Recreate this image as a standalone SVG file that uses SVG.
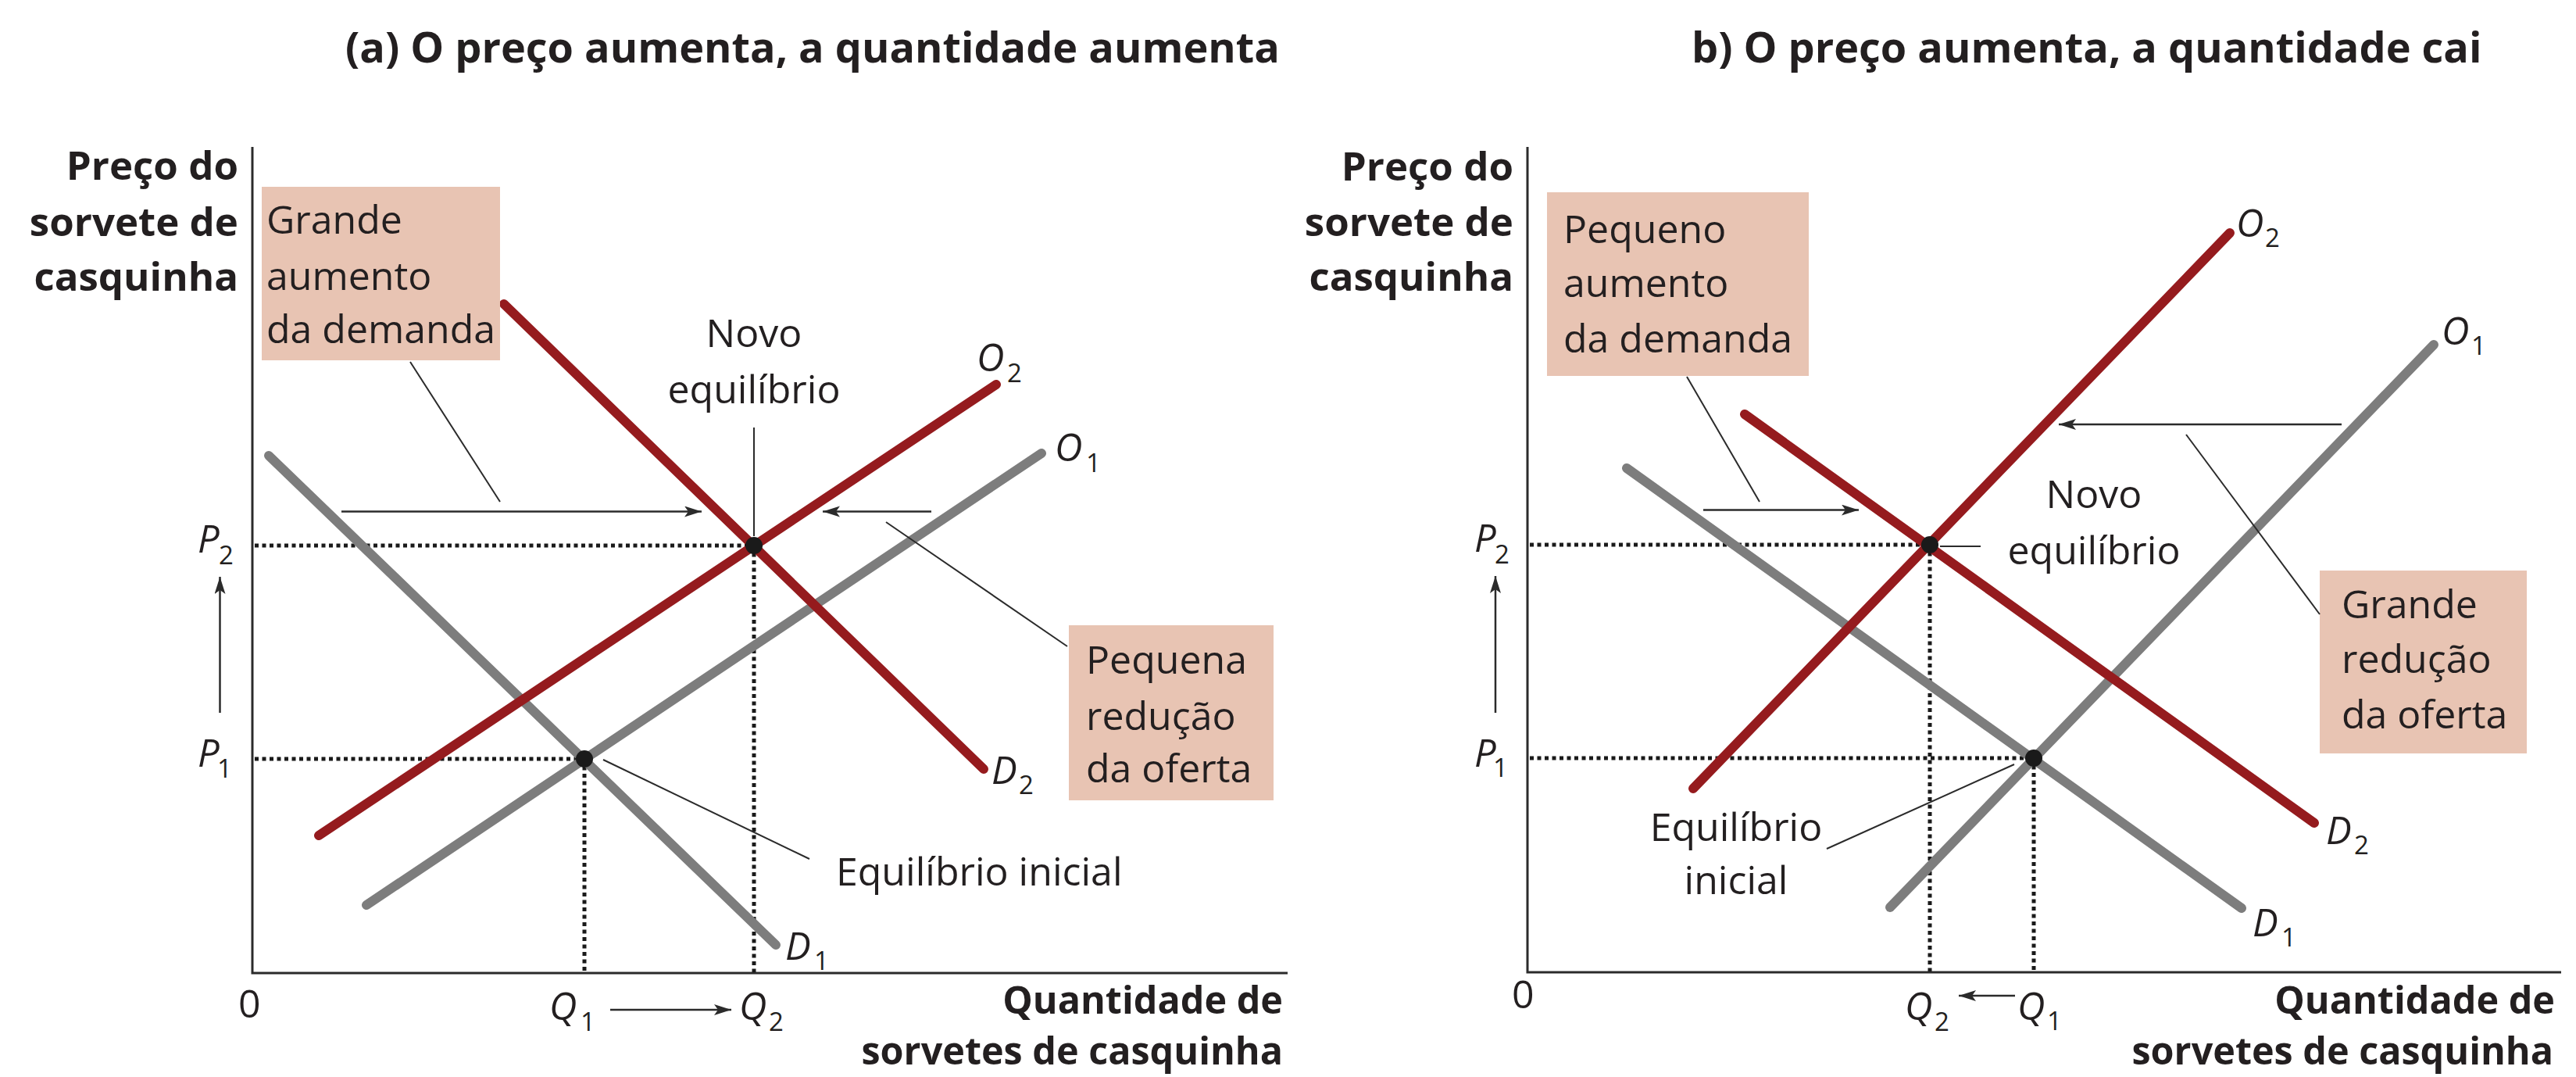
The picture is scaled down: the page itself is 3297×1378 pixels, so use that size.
<svg xmlns="http://www.w3.org/2000/svg" width="3297" height="1378" viewBox="0 0 3297 1378">
<style>
text{font-family:"Open Sans","Liberation Sans",sans-serif;fill:#231f20}
.title{font-weight:bold;font-size:54px}
.ax{font-weight:bold;font-size:51px}
.axq{font-weight:bold;font-size:48.5px}
.lbl{font-size:50px}
.it{font-style:italic;font-size:49px}
.sub{font-size:33px}
.box{fill:#e8c4b3}
.axis{stroke:#2b2b2b;stroke-width:3;fill:none}
.red{stroke:#951b1e;stroke-width:12;stroke-linecap:round;fill:none}
.gray{stroke:#7d7d7d;stroke-width:12;stroke-linecap:round;fill:none}
.dot{stroke:#1a1a1a;stroke-width:5;stroke-dasharray:5 4.5;fill:none}
.lead{stroke:#2b2b2b;stroke-width:2;fill:none}
.arr{stroke:#2b2b2b;stroke-width:2.5;fill:none;marker-end:url(#ah)}
.pt{fill:#1a1a1a}
</style>
<defs>
<marker id="ah" markerUnits="userSpaceOnUse" markerWidth="24" markerHeight="16" refX="22" refY="7" orient="auto">
<path d="M0,0 L22,7 L0,14 L5,7 z" fill="#2b2b2b"/>
</marker>
</defs>
<rect width="3297" height="1378" fill="#ffffff"/>

<!-- Panel A -->
<g id="panel-a">
<text id="title-a" class="title" x="442" y="80">(a) O preço aumenta, a quantidade aumenta</text>
<g id="axes-a">
<path class="axis" d="M323,188 V1245 H1648"/>
<text class="ax" text-anchor="end" x="305" y="230">Preço do</text>
<text class="ax" text-anchor="end" x="305" y="302">sorvete de</text>
<text class="ax" text-anchor="end" x="305" y="372">casquinha</text>
<text class="axq" text-anchor="end" x="1642" y="1297">Quantidade de</text>
<text class="axq" text-anchor="end" x="1642" y="1362">sorvetes de casquinha</text>
<text class="lbl" x="305" y="1302">0</text>
</g>
<g id="guides-a">
<line class="dot" x1="326" y1="698" x2="965" y2="698"/>
<line class="dot" x1="326" y1="971" x2="748" y2="971"/>
<line class="dot" x1="748" y1="971" x2="748" y2="1244"/>
<line class="dot" x1="965" y1="698" x2="965" y2="1244"/>
</g>
<g id="curves-a">
<line id="D1-a" class="gray" x1="344" y1="583" x2="993" y2="1209"/>
<line id="O1-a" class="gray" x1="469" y1="1158" x2="1333" y2="580"/>
<line id="D2-a" class="red" x1="645" y1="389" x2="1259" y2="984"/>
<line id="O2-a" class="red" x1="408" y1="1069" x2="1275" y2="492"/>
</g>
<g id="labels-a">
<text class="it" x="253" y="707">P<tspan class="sub" style="font-style:normal" x="280" y="722">2</tspan></text>
<text class="it" x="253" y="981">P<tspan class="sub" style="font-style:normal" x="278" y="995">1</tspan></text>
<text class="it" x="1250" y="475">O<tspan class="sub" style="font-style:normal" x="1289" y="489">2</tspan></text>
<text class="it" x="1350" y="590">O<tspan class="sub" style="font-style:normal" x="1390" y="604">1</tspan></text>
<text class="it" x="1269" y="1003">D<tspan class="sub" style="font-style:normal" x="1304" y="1016">2</tspan></text>
<text class="it" x="1005" y="1228">D<tspan class="sub" style="font-style:normal" x="1042" y="1241">1</tspan></text>
<text class="it" x="703" y="1305">Q<tspan class="sub" style="font-style:normal" x="743" y="1319">1</tspan></text>
<text class="it" x="946" y="1305">Q<tspan class="sub" style="font-style:normal" x="984" y="1319">2</tspan></text>
</g>
<g id="eq-new-a">
<circle class="pt" cx="965" cy="698" r="11"/>
<text class="lbl" text-anchor="middle" x="965" y="444">Novo</text>
<text class="lbl" text-anchor="middle" x="965" y="516">equilíbrio</text>
</g>
<g id="eq-init-a">
<circle class="pt" cx="748" cy="971" r="11"/>
<text class="lbl" x="1070" y="1133">Equilíbrio inicial</text>
</g>
<g id="box-demand-a">
<rect class="box" x="335" y="239" width="305" height="222"/>
<text class="lbl" x="341" y="299">Grande</text>
<text class="lbl" x="341" y="371">aumento</text>
<text class="lbl" x="341" y="439">da demanda</text>
</g>
<g id="box-supply-a">
<rect class="box" x="1368" y="800" width="262" height="224"/>
<text class="lbl" x="1390" y="862">Pequena</text>
<text class="lbl" x="1390" y="934">redução</text>
<text class="lbl" x="1390" y="1001">da oferta</text>
</g>
</g>

<!-- Panel B -->
<g id="panel-b">
<text id="title-b" class="title" x="2165" y="80">b) O preço aumenta, a quantidade cai</text>
<g id="axes-b">
<path class="axis" d="M1955,188 V1244 H3278"/>
<text class="ax" text-anchor="end" x="1937" y="231">Preço do</text>
<text class="ax" text-anchor="end" x="1937" y="302">sorvete de</text>
<text class="ax" text-anchor="end" x="1937" y="372">casquinha</text>
<text class="axq" text-anchor="end" x="3270" y="1297">Quantidade de</text>
<text class="axq" text-anchor="end" x="3268" y="1362">sorvetes de casquinha</text>
<text class="lbl" x="1935" y="1290">0</text>
</g>
<g id="guides-b">
<line class="dot" x1="1958" y1="697" x2="2470" y2="697"/>
<line class="dot" x1="1958" y1="970" x2="2603" y2="970"/>
<line class="dot" x1="2470" y1="697" x2="2470" y2="1243"/>
<line class="dot" x1="2603" y1="970" x2="2603" y2="1243"/>
</g>
<g id="curves-b">
<line id="D1-b" class="gray" x1="2082" y1="599" x2="2869" y2="1162"/>
<line id="O1-b" class="gray" x1="2419" y1="1161" x2="3115" y2="441"/>
<line id="D2-b" class="red" x1="2233" y1="530" x2="2962" y2="1053"/>
<line id="O2-b" class="red" x1="2167" y1="1009" x2="2854" y2="298"/>
</g>
<g id="labels-b">
<text class="it" x="1887" y="706">P<tspan class="sub" style="font-style:normal" x="1913" y="721">2</tspan></text>
<text class="it" x="1887" y="981">P<tspan class="sub" style="font-style:normal" x="1911" y="994">1</tspan></text>
<text class="it" x="2862" y="303">O<tspan class="sub" style="font-style:normal" x="2899" y="316">2</tspan></text>
<text class="it" x="3125" y="441">O<tspan class="sub" style="font-style:normal" x="3163" y="454">1</tspan></text>
<text class="it" x="2977" y="1080">D<tspan class="sub" style="font-style:normal" x="3013" y="1093">2</tspan></text>
<text class="it" x="2883" y="1198">D<tspan class="sub" style="font-style:normal" x="2920" y="1211">1</tspan></text>
<text class="it" x="2438" y="1305">Q<tspan class="sub" style="font-style:normal" x="2476" y="1319">2</tspan></text>
<text class="it" x="2582" y="1305">Q<tspan class="sub" style="font-style:normal" x="2620" y="1318">1</tspan></text>
</g>
<g id="eq-new-b">
<circle class="pt" cx="2470" cy="697" r="11"/>
<text class="lbl" text-anchor="middle" x="2680" y="650">Novo</text>
<text class="lbl" text-anchor="middle" x="2680" y="722">equilíbrio</text>
</g>
<g id="eq-init-b">
<circle class="pt" cx="2603" cy="970" r="11"/>
<text class="lbl" text-anchor="middle" x="2222" y="1076">Equilíbrio</text>
<text class="lbl" text-anchor="middle" x="2222" y="1144">inicial</text>
</g>
<g id="box-demand-b">
<rect class="box" x="1980" y="246" width="335" height="235"/>
<text class="lbl" x="2001" y="311">Pequeno</text>
<text class="lbl" x="2001" y="380">aumento</text>
<text class="lbl" x="2001" y="451">da demanda</text>
</g>
<g id="box-supply-b">
<rect class="box" x="2969" y="730" width="265" height="234"/>
<text class="lbl" x="2997" y="791">Grande</text>
<text class="lbl" x="2997" y="861">redução</text>
<text class="lbl" x="2997" y="932">da oferta</text>
</g>
</g>

<g id="connectors">
<!-- panel a -->
<line class="arr" x1="437" y1="654.5" x2="898" y2="654.5"/>
<line class="arr" x1="1192" y1="654.5" x2="1053" y2="654.5"/>
<line class="arr" x1="281.5" y1="912" x2="281.5" y2="738"/>
<line class="arr" x1="781" y1="1292" x2="936" y2="1292"/>
<line class="lead" x1="525" y1="463" x2="640" y2="642"/>
<line class="lead" x1="1366" y1="827" x2="1134" y2="668"/>
<line class="lead" x1="965" y1="547" x2="965" y2="686"/>
<line class="lead" x1="772" y1="972" x2="1036" y2="1099"/>
<!-- panel b -->
<line class="arr" x1="2180" y1="652.6" x2="2379" y2="652.6"/>
<line class="arr" x1="2997" y1="543" x2="2635" y2="543"/>
<line class="arr" x1="1914" y1="912" x2="1914" y2="737"/>
<line class="arr" x1="2579" y1="1274" x2="2507" y2="1274"/>
<line class="lead" x1="2159" y1="482" x2="2252" y2="642"/>
<line class="lead" x1="2969" y1="786" x2="2798" y2="556"/>
<line class="lead" x1="2483" y1="699" x2="2535" y2="699"/>
<line class="lead" x1="2338" y1="1086" x2="2578" y2="978"/>
</g>
</svg>
